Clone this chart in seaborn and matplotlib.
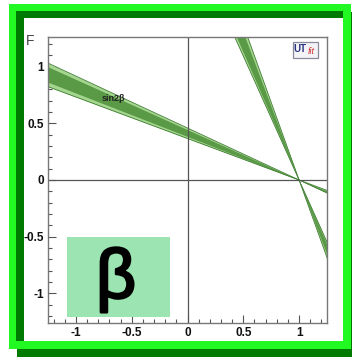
import numpy as np
import pandas as pd
import matplotlib
matplotlib.use("Agg")
import matplotlib.pyplot as plt
import matplotlib.patheffects as pe
import seaborn as sns
from matplotlib.patches import Rectangle, FancyBboxPatch

# sin(2beta) constraint: central value and intervals
sin2beta_central = 0.705
sin2beta_68 = [0.668, 0.741]
sin2beta_95 = [0.645, 0.757]

x_ticks = [-1, -0.5, 0, 0.5, 1]
y_ticks = [-1, -0.5, 0, 0.5, 1]
x_tick_labels = ["-1", "-0.5", "0", "0.5", "1"]
y_tick_labels = ["-1", "-0.5", "0", "0.5", "1"]

band_label = "sin2\u03b2"
panel_letter = "\u03b2"

sns.set_style("white")
plt.rcParams["font.family"] = ["Liberation Sans", "DejaVu Sans"]

W, H = 352, 357
fig = plt.figure(figsize=(W / 100, H / 100), dpi=100)
fig.patch.set_facecolor("white")


def fig_rect(x0, y0, x1, y1):
    """Pixel box (top-left origin) -> figure-fraction rectangle args."""
    return (x0 / W, 1 - y1 / H), (x1 - x0) / W, (y1 - y0) / H


bright = "#22f822"
dark = "#007a00"
for (x0, y0, x1, y1), col in [((17, 12, 360, 360), dark),
                               ((9, 4, 351, 349), bright),
                               ((16, 11, 343, 341), dark),
                               ((24, 18, 343, 341), "white")]:
    xy, w, h = fig_rect(x0, y0, x1, y1)
    fig.patches.append(Rectangle(xy, w, h, transform=fig.transFigure,
                                 facecolor=col, edgecolor="none", zorder=-5))

ax = fig.add_axes([48 / W, 1 - 323 / H, 279 / W, 286 / H])
ax.set_zorder(5)
ax.set_facecolor("white")
ax.set_xlim(-1.25, 1.25)
ax.set_ylim(-1.26, 1.26)


def beta_range(s_lo, s_hi):
    """Angles beta (radians) for the two sin(2beta) solutions."""
    b_lo, b_hi = 0.5 * np.arcsin(s_lo), 0.5 * np.arcsin(s_hi)
    return (b_lo, b_hi), (np.pi / 2 - b_hi, np.pi / 2 - b_lo)


xs = np.linspace(-1.4, 1.4, 801)
light_col = "#a5d690"
dark_col = "#5a9a47"
edge_col = "#3f7d32"

sol95 = beta_range(*sin2beta_95)
sol68 = beta_range(*sin2beta_68)
for (a1, a2), (c1, c2) in zip(sol95, sol68):
    ax.fill_between(xs, np.tan(a1) * (1 - xs), np.tan(a2) * (1 - xs),
                    color=light_col, lw=0, zorder=2)
    ax.fill_between(xs, np.tan(c1) * (1 - xs), np.tan(c2) * (1 - xs),
                    color=dark_col, lw=0, zorder=3)
    edges = pd.DataFrame({
        "x": np.concatenate([xs, xs]),
        "y": np.concatenate([np.tan(a1) * (1 - xs), np.tan(a2) * (1 - xs)]),
        "edge": ["lo"] * len(xs) + ["hi"] * len(xs),
    })
    sns.lineplot(data=edges, x="x", y="y", units="edge", estimator=None,
                 color=edge_col, lw=0.6, ax=ax, zorder=4, sort=False)

ax.axhline(0, color="#555555", lw=0.9, zorder=5)
ax.axvline(0, color="#555555", lw=0.9, zorder=5)

ax.text(-0.66, 0.72, band_label, fontsize=6.5, fontweight="bold",
        color="#222222", ha="center", va="center", zorder=6)

ax.add_patch(Rectangle((-1.08, -1.21), 0.92, 0.71, facecolor="#9ce5b3",
                       edgecolor="none", zorder=6))
ax.text(-0.64, -0.88, panel_letter, fontsize=50, color="black",
        ha="center", va="center", zorder=7,
        family=["Liberation Sans", "DejaVu Sans"],
        path_effects=[pe.withStroke(linewidth=1.8, foreground="black")])

# UTfit badge
ax.add_patch(FancyBboxPatch((0.878, 0.928), 0.09, 0.056,
                            boxstyle="square,pad=0", transform=ax.transAxes,
                            facecolor="#f3f3f8", edgecolor="#8a8a9a", lw=0.9,
                            zorder=8))
ax.text(0.903, 0.957, "UT", transform=ax.transAxes, fontsize=7,
        fontweight="bold", color="#2a3580", ha="center", va="center", zorder=9)
ax.text(0.944, 0.951, "fit", transform=ax.transAxes, fontsize=6.5,
        style="italic", color="#d23030", ha="center", va="center", zorder=9)

ax.set_xticks(x_ticks)
ax.set_xticklabels(x_tick_labels)
ax.set_yticks(y_ticks)
ax.set_yticklabels(y_tick_labels)
ax.set_xticks(np.arange(-1.2, 1.25, 0.1), minor=True)
ax.set_yticks(np.arange(-1.2, 1.25, 0.1), minor=True)
ax.tick_params(which="both", direction="in", color="#555555", width=0.8,
               top=False, right=False, left=True, bottom=True)
ax.tick_params(which="major", length=6, labelsize=8.5, pad=3,
               labelcolor="#111111")
ax.tick_params(which="minor", length=3)
for lab in ax.get_xticklabels() + ax.get_yticklabels():
    lab.set_fontweight("bold")
for sp in ax.spines.values():
    sp.set_color("#777777")
    sp.set_linewidth(1.0)
    sp.set_zorder(10)
ax.set_xlabel("")
ax.set_ylabel("")

fig.text(30 / W, 1 - 41 / H, "F", fontsize=10, color="#444444",
         ha="center", va="center", zorder=6)

fig.savefig("out.png", dpi=100, facecolor="white")
